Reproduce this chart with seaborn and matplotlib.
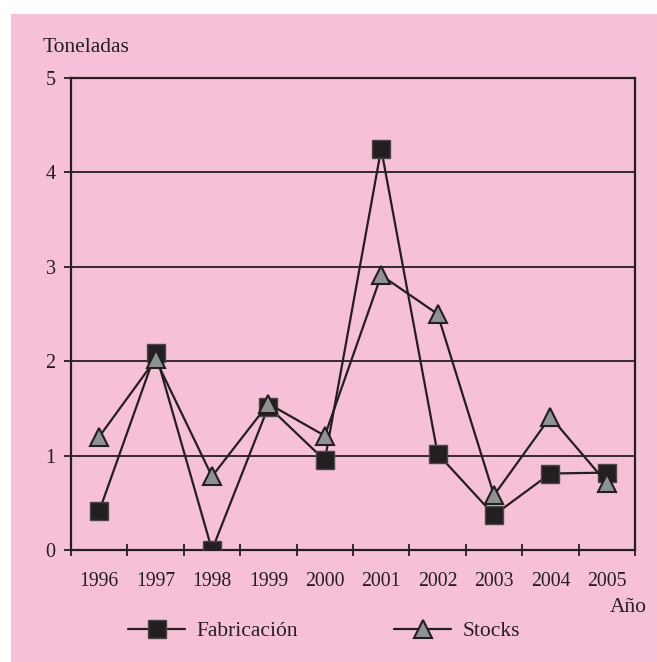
import matplotlib
matplotlib.use("Agg")
import matplotlib.pyplot as plt
from matplotlib.patches import Rectangle
import seaborn as sns
import pandas as pd
import numpy as np

years = ["1996", "1997", "1998", "1999", "2000", "2001", "2002", "2003", "2004", "2005"]
fabricacion = [0.41, 2.09, 0.0, 1.52, 0.95, 4.25, 1.02, 0.37, 0.81, 0.82]
stocks = [1.20, 2.02, 0.78, 1.55, 1.21, 2.91, 2.50, 0.58, 1.41, 0.71]
yticks = [0, 1, 2, 3, 4, 5]

sns.set_theme(style="white")
plt.rcParams['font.family'] = ['Liberation Serif', 'DejaVu Serif']

BG = "#F6C1D8"
DARK = "#231F20"
GRAY = "#8E9293"

W, H = 657, 662
fig = plt.figure(figsize=(W/100, H/100), dpi=100, facecolor="white")
fig.patches.append(Rectangle((11/W, 0), 1 - 11/W, 1 - 14/H, transform=fig.transFigure,
                             facecolor=BG, edgecolor="none", zorder=-10))

ax = fig.add_axes([71/W, 1-550/H, (635-71)/W, (550-78)/H])
ax.set_facecolor(BG)
ax.set_zorder(1)

pos = np.arange(len(years))
df_f = pd.DataFrame({"x": pos, "y": fabricacion})
df_s = pd.DataFrame({"x": pos, "y": stocks})

sns.lineplot(data=df_f, x="x", y="y", ax=ax, color=DARK, lw=1.6, marker="s",
             markersize=12.5, markerfacecolor=DARK, markeredgecolor="#4a4546",
             markeredgewidth=1.0, label="Fabricación", zorder=3, legend=False)
sns.lineplot(data=df_s, x="x", y="y", ax=ax, color=DARK, lw=1.6, marker="^",
             markersize=13, markerfacecolor=GRAY, markeredgecolor=DARK,
             markeredgewidth=1.5, label="Stocks", zorder=4, legend=False)

ax.set_xlim(-0.5, len(years) - 0.5)
ax.set_ylim(0, 5)
ax.set_xlabel("")
ax.set_ylabel("")

for v in yticks[1:]:
    ax.axhline(v, color=DARK, lw=1.3, zorder=1)

ax.set_yticks(yticks)
ax.set_yticklabels([str(v) for v in yticks], fontsize=14.5, color=DARK)
ax.tick_params(axis="y", which="major", left=True, length=5, width=1.3, color=DARK, pad=6, direction="out")

ax.set_xticks(pos)
ax.set_xticklabels(years, fontsize=14.2, color=DARK)
ax.tick_params(axis="x", which="major", bottom=True, length=0, pad=16)
ax.set_xticks(np.arange(-0.5, len(years)), minor=True)
ax.tick_params(axis="x", which="minor", bottom=True, length=9, width=1.3, color=DARK, direction="inout")

for s in ["left", "right", "bottom", "top"]:
    ax.spines[s].set_visible(True)
    ax.spines[s].set_color(DARK)
    ax.spines[s].set_linewidth(1.6)
ax.grid(False)

fig.text(43/W, 1-48/H, "Toneladas", fontsize=15.5, color=DARK, va="center", ha="left")
fig.text(647/W, 1-607/H, "Año", fontsize=15.5, color=DARK, va="center", ha="right")

handles, labels = ax.get_legend_handles_labels()
fig.legend(handles, labels, loc="center left", bbox_to_anchor=(128/W, 1-631/H),
           ncol=2, frameon=False, fontsize=15.5, handlelength=2.65, handletextpad=0.55,
           columnspacing=4.45, borderpad=0, borderaxespad=0, labelcolor=DARK)

fig.savefig("out.png", dpi=100, facecolor="white")
